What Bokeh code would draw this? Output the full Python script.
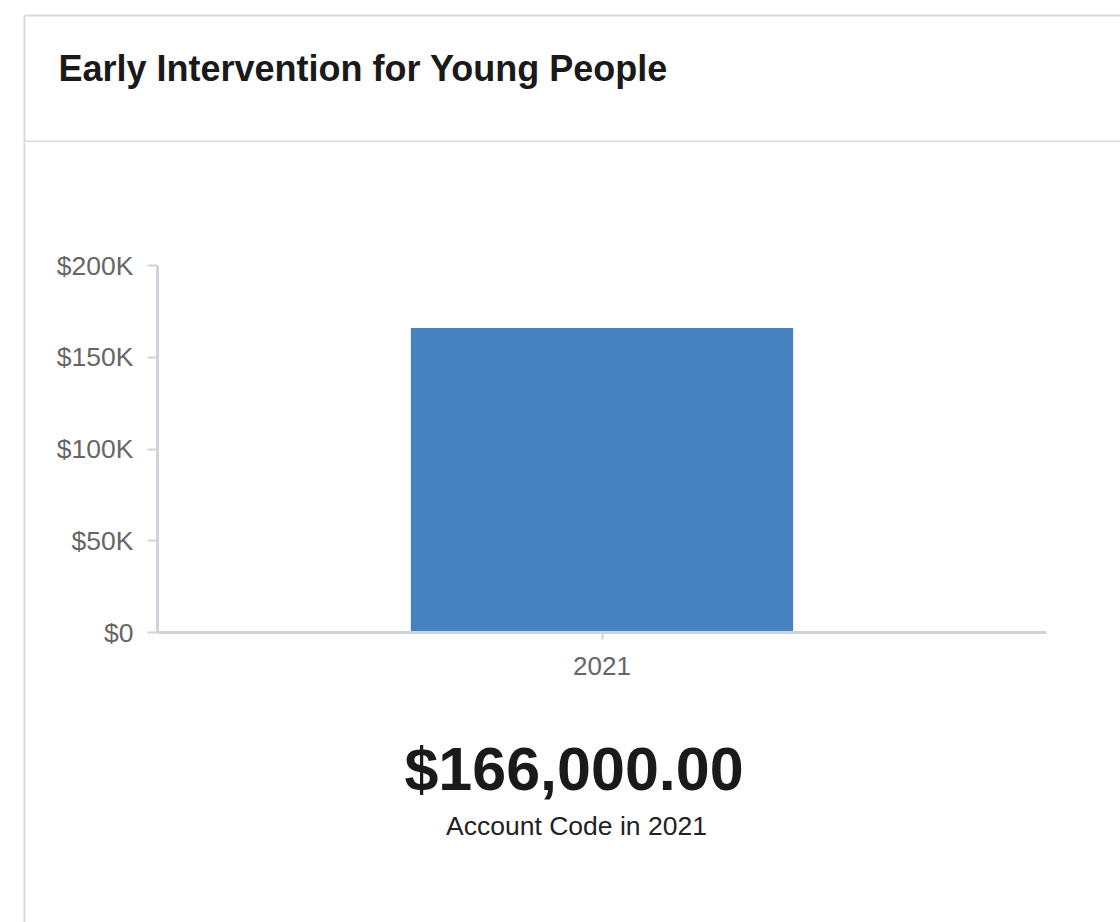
from bokeh.plotting import figure
from bokeh.layouts import column, row
from bokeh.models import FactorRange, Range1d, FixedTicker, ColumnDataSource
from bokeh.core.properties import value
from bokeh.embed import file_html
from bokeh.resources import INLINE

# ---- data ----
years = ["2021"]
amounts = [166000]
y_ticks = [0, 50000, 100000, 150000, 200000]
y_tick_labels = ["$0", "$50K", "$100K", "$150K", "$200K"]
title_text = ["Early Intervention for Young People"]
total_text = ["$166,000.00"]
caption_text = ["Account Code in 2021"]

W, H = 1120, 922
HEAD_H = 142          # header strip height
STRIP_W = 40          # left strip carrying the card border
CHART_BOTTOM = 700    # canvas y where chart figure ends
FL, FR, FT, FB = 157, 1046, 265, 632  # chart frame edges in canvas px

font = "Liberation Sans"
card_col = "#d6d9dd"
axis_col = "#d0d3d9"
label_col = "#666666"


def deco(width, height, x0, y0):
    """A plain figure whose frame is the whole canvas, ranges in canvas pixels."""
    f = figure(width=width, height=height, output_backend="svg", toolbar_location=None,
               x_range=Range1d(x0, x0 + width), y_range=Range1d(y0 + height, y0),
               x_axis_type=None, y_axis_type=None, min_border=0)
    f.grid.visible = False
    f.outline_line_color = None
    f.background_fill_color = "white"
    f.border_fill_color = "white"
    return f


# ---- header ----
head = deco(W, HEAD_H, 0, 0)
head.segment(x0=[24, 24, 24], y0=[15, 15, 141], x1=[W + 10, 24, W + 10], y1=[15, HEAD_H + 2, 141],
             line_color=card_col, line_width=2)
head.text(x=[58], y=[68], text=title_text, text_font=value(font), text_font_style="bold",
          text_font_size="36px", text_color="#1a1a1a", text_align="left",
          text_baseline="alphabetic")

# ---- left strip ----
strip = deco(STRIP_W, H - HEAD_H, 0, HEAD_H)
strip.segment(x0=[24], y0=[HEAD_H - 2], x1=[24], y1=[H + 5], line_color=card_col, line_width=2)

# ---- chart ----
CW = W - STRIP_W
CH = CHART_BOTTOM - HEAD_H
p = figure(width=CW, height=CH, x_range=FactorRange(*years), y_range=Range1d(0, 200000),
           output_backend="svg", toolbar_location=None,
           min_border_left=FL - STRIP_W, min_border_right=W - FR,
           min_border_top=FT - HEAD_H, min_border_bottom=CHART_BOTTOM - FB)
p.background_fill_color = "white"
p.border_fill_color = "white"
p.outline_line_color = None
p.xgrid.grid_line_color = None
p.ygrid.grid_line_color = None

src = ColumnDataSource(dict(x=years, top=amounts))
p.vbar(x="x", top="top", width=0.43, source=src, color="#4682C0", line_color=None)

ya = p.yaxis[0]
ya.ticker = FixedTicker(ticks=y_ticks)
ya.major_label_overrides = {t: l for t, l in zip(y_ticks, y_tick_labels)}
ya.axis_line_color = axis_col
ya.axis_line_width = 3
ya.major_tick_line_color = axis_col
ya.major_tick_line_width = 2
ya.major_tick_out = 10
ya.major_tick_in = 0
ya.minor_tick_line_color = None
ya.major_label_text_font = font
ya.major_label_text_font_size = "26.5px"
ya.major_label_text_color = label_col
ya.major_label_standoff = 14

xa = p.xaxis[0]
xa.axis_line_color = axis_col
xa.axis_line_width = 3
xa.major_tick_line_color = axis_col
xa.major_tick_line_width = 2
xa.major_tick_out = 7
xa.major_tick_in = 0
xa.minor_tick_line_color = None
xa.major_label_text_font = font
xa.major_label_text_font_size = "26px"
xa.major_label_text_color = label_col
xa.major_label_standoff = 17

# ---- footer ----
foot = deco(CW, H - CHART_BOTTOM, STRIP_W, CHART_BOTTOM)
foot.text(x=[546], y=[768], text=total_text, text_font=value(font), text_font_style="bold",
          text_font_size="61px", text_color="#1a1a1a", text_align="center",
          text_baseline="alphabetic")
foot.text(x=[549], y=[825], text=caption_text, text_font=value(font),
          text_font_size="26.5px", text_color="#222222", text_align="center",
          text_baseline="alphabetic")

layout = column(head, row(strip, column(p, foot, spacing=0), spacing=0), spacing=0)

open("out.html", "w").write(file_html(layout, INLINE))
